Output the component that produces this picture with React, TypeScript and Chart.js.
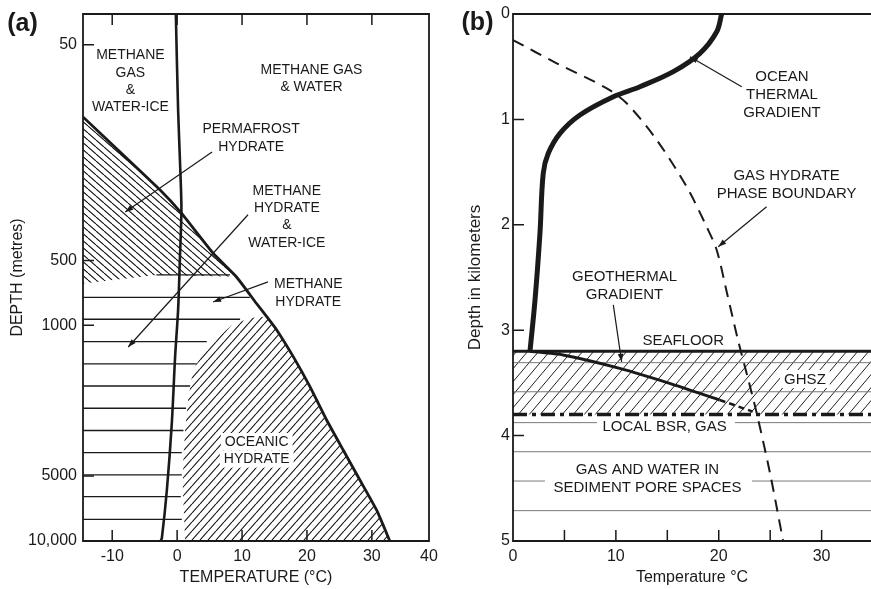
import React, { useEffect, useRef } from 'react';
import { Chart, registerables } from 'chart.js';

Chart.register(...registerables);

const FONT = '"Liberation Sans", Arial, Helvetica, sans-serif';
const INK = '#1a1a1a';

// ---------------- Panel (a): phase diagram ----------------
const aTempMin = -14.5;
const aTempMax = 38.8;
const aDepthMin = 36;
const aDepthMax = 10000;
const aTempTicks = [-10, 0, 10, 20, 30, 38.8];
const aTempTickLabels = ['-10', '0', '10', '20', '30', '40'];
const aDepthTicks = [50, 500, 1000, 5000, 10000];
const aDepthTickLabels = ['50', '500', '1000', '5000', '10,000'];

// temperature profile (nearly vertical thick line)
const aProfileTemp = [-0.2, 0.15, 0.5, 0.66, 0.42, 0.15, -0.31, -0.82, -1.58, -2.35, -2.54];
const aProfileDepth = [36, 100, 194, 291, 497, 848, 1397, 2846, 5801, 9684, 10000];

// methane hydrate phase boundary
const aBoundaryTemp = [-14.5, -2.66, 0.66, 5.54, 9.12, 12.2, 13.8, 15.34, 17.89, 20.46, 23.03, 25.58, 28.15, 30.72, 32.77];
const aBoundaryDepth = [108, 235, 302, 463, 595, 790, 911, 1050, 1397, 1925, 2747, 3784, 5213, 7180, 10000];

// permafrost hydrate region (hatched \\\)
const aPermafrostTemp = [-14.5, -2.66, 0.66, 5.54, 9.12, -3.2, -14.5];
const aPermafrostDepth = [108, 235, 302, 463, 595, 584, 640];

// oceanic hydrate region (hatched ///)
const aOceanicTemp = [11.23, 13.8, 15.34, 17.89, 20.46, 23.03, 25.58, 28.15, 30.72, 32.77, 1.23, 0.88, 0.97, 1.23, 1.69, 2.46, 4.57, 8.46];
const aOceanicDepth = [924, 911, 1050, 1397, 1925, 2747, 3784, 5213, 7180, 10000, 10000, 5801, 4077, 3056, 2218, 1610, 1260, 996];

// horizontal lines: methane hydrate & water-ice
const aIceLineDepth = [584, 742, 937, 1190, 1510, 1911, 2424, 3073, 3894, 4941, 6231, 7932];
const aIceLineStart = [-3.2, -14.5, -14.5, -14.5, -14.5, -14.5, -14.5, -14.5, -14.5, -14.5, -14.5, -14.5];
const aIceLineEnd = [8.15, 11.2, 9.7, 4.57, 3.03, 2.0, 1.38, 0.97, 0.72, 0.72, 0.57, 0.72];

const aNotes = [
  { lines: ['METHANE', 'GAS', '&', 'WATER-ICE'], t: -7.2, depth: 55.7 },
  { lines: ['METHANE GAS', '& WATER'], t: 20.7, depth: 64.9 },
  { lines: ['PERMAFROST', 'HYDRATE'], t: 11.4, depth: 123 },
  { lines: ['METHANE', 'HYDRATE', '&', 'WATER-ICE'], t: 16.9, depth: 237 },
  { lines: ['METHANE', 'HYDRATE'], t: 20.2, depth: 643 },
  { lines: ['OCEANIC', 'HYDRATE'], t: 12.26, depth: 3463, boxed: true },
];
const aArrows = [
  { from: [5.38, 157], to: [-8.0, 298] },
  { from: [10.92, 307], to: [-7.54, 1260] },
  { from: [14.0, 629], to: [5.54, 779] },
];

// ---------------- Panel (b): marine section ----------------
const bTempMin = 0;
const bTempMax = 34.8;
const bDepthMin = 0;
const bDepthMax = 5;
const bTempTicks = [0, 5, 10, 15, 20, 25, 30];
const bTempTickLabels = ['0', '', '10', '', '20', '', '30'];
const bDepthTicks = [0, 1, 2, 3, 4, 5];
const bDepthTickLabels = ['0', '1', '2', '3', '4', '5'];

const bOceanTemp = [20.28, 19.8, 18.17, 15.58, 12.34, 9.75, 6.51, 4.57, 3.43, 2.94, 2.62, 2.14, 1.65];
const bOceanDepth = [0, 0.168, 0.373, 0.547, 0.69, 0.785, 0.958, 1.132, 1.322, 1.511, 2.081, 2.713, 3.2];

const bPhaseTemp = [0, 4.25, 9.11, 11.05, 13.97, 16.88, 18.82, 19.8, 20.8, 21.87, 22.93, 23.71, 24.98, 26.24];
const bPhaseDepth = [0.247, 0.468, 0.705, 0.847, 1.195, 1.639, 2.018, 2.239, 2.647, 3.093, 3.491, 3.795, 4.355, 4.99];

const bGeoTemp = [1.65, 4.86, 10.37, 15.23, 20.09];
const bGeoDepth = [3.2, 3.235, 3.362, 3.504, 3.662];
const bGeoExtTemp = [20.09, 23.3];
const bGeoExtDepth = [3.662, 3.772];

const bSeafloorTemp = [0, 34.8];
const bSeafloorDepth = [3.2, 3.2];
const bBsrTemp = [0, 34.8];
const bBsrDepth = [3.8, 3.8];
const bGhszTemp = [0, 34.8, 34.8, 0];
const bGhszDepth = [3.2, 3.2, 3.8, 3.8];

const bLayerDepth = [3.308, 3.584, 3.877, 3.877, 4.153, 4.431, 4.431, 4.712];
const bLayerStart = [0, 0, 0, 21.57, 0, 0, 23.23, 0];
const bLayerEnd = [34.8, 34.8, 8.16, 34.8, 34.8, 3.11, 34.8, 34.8];

const bNotes = [
  { lines: ['OCEAN', 'THERMAL', 'GRADIENT'], t: 26.14, depth: 0.588 },
  { lines: ['GAS HYDRATE', 'PHASE BOUNDARY'], t: 26.6, depth: 1.528 },
  { lines: ['GEOTHERMAL', 'GRADIENT'], t: 10.84, depth: 2.492 },
  { lines: ['SEAFLOOR'], t: 16.55, depth: 3.1 },
  { lines: ['GHSZ'], t: 28.38, depth: 3.463, boxed: true },
  { lines: ['LOCAL BSR, GAS'], t: 14.74, depth: 3.915 },
  { lines: ['GAS AND WATER IN', 'SEDIMENT PORE SPACES'], t: 13.07, depth: 4.32 },
];
const bArrows = [
  { from: [22.23, 0.69], to: [17.2, 0.405] },
  { from: [24.65, 1.828], to: [19.95, 2.208] },
  { from: [9.75, 2.76], to: [10.56, 3.3] },
];

// ---------------- helpers ----------------
function pts(xs: number[], ys: number[]) {
  return xs.map((x, i) => ({ x, y: ys[i] }));
}
function segs(starts: number[], ends: number[], ys: number[]) {
  const out: any[] = [];
  for (let i = 0; i < ys.length; i++) {
    out.push({ x: starts[i], y: ys[i] }, { x: ends[i], y: ys[i] }, { x: null, y: null });
  }
  return out;
}
function hatch(w: number, h: number, dir: number, color: string, lw: number) {
  const c = document.createElement('canvas');
  c.width = w;
  c.height = h;
  const g = c.getContext('2d')!;
  g.strokeStyle = color;
  g.lineWidth = lw;
  g.beginPath();
  for (const k of [-1, 0, 1]) {
    if (dir > 0) {
      g.moveTo(k * w, h);
      g.lineTo(k * w + w, 0);
    } else {
      g.moveTo(k * w, 0);
      g.lineTo(k * w + w, h);
    }
  }
  g.stroke();
  return g.createPattern(c, 'repeat');
}

function drawArrow(ctx: CanvasRenderingContext2D, x1: number, y1: number, x2: number, y2: number) {
  ctx.beginPath();
  ctx.moveTo(x1, y1);
  ctx.lineTo(x2, y2);
  ctx.stroke();
  const ang = Math.atan2(y2 - y1, x2 - x1);
  const head = 8;
  const half = 2.8;
  const bx = x2 - head * Math.cos(ang);
  const by = y2 - head * Math.sin(ang);
  ctx.beginPath();
  ctx.moveTo(x2, y2);
  ctx.lineTo(bx + half * Math.sin(ang), by - half * Math.cos(ang));
  ctx.lineTo(bx - half * Math.sin(ang), by + half * Math.cos(ang));
  ctx.closePath();
  ctx.fill();
}

function drawDecor(chart: any, cfg: any) {
  const ctx: CanvasRenderingContext2D = chart.ctx;
  const { left, right, top, bottom } = chart.chartArea;
  const xs = chart.scales.x;
  const ys = chart.scales.y;
  ctx.save();
  ctx.strokeStyle = INK;
  ctx.fillStyle = INK;

  // annotations
  ctx.font = `${cfg.noteSize}px ${FONT}`;
  ctx.textAlign = 'center';
  ctx.textBaseline = 'middle';
  for (const n of cfg.notes) {
    const x = xs.getPixelForValue(n.t);
    const y0 = ys.getPixelForValue(n.depth);
    n.lines.forEach((line: string, i: number) => {
      const y = y0 + i * cfg.lineGap;
      if (n.boxed) {
        const w = ctx.measureText(line).width + 8;
        ctx.fillStyle = '#ffffff';
        ctx.fillRect(x - w / 2, y - cfg.lineGap / 2, w, cfg.lineGap);
        ctx.fillStyle = INK;
      }
      ctx.fillText(line, x, y + 0.5);
    });
  }

  // arrows
  ctx.lineWidth = 1.2;
  for (const a of cfg.arrows) {
    drawArrow(
      ctx,
      xs.getPixelForValue(a.from[0]),
      ys.getPixelForValue(a.from[1]),
      xs.getPixelForValue(a.to[0]),
      ys.getPixelForValue(a.to[1])
    );
  }

  // frame
  ctx.lineWidth = 1.8;
  ctx.lineCap = 'square';
  ctx.beginPath();
  if (cfg.sides.includes('top')) { ctx.moveTo(left, top); ctx.lineTo(right, top); }
  if (cfg.sides.includes('left')) { ctx.moveTo(left, top); ctx.lineTo(left, bottom); }
  if (cfg.sides.includes('bottom')) { ctx.moveTo(left, bottom); ctx.lineTo(right, bottom); }
  if (cfg.sides.includes('right')) { ctx.moveTo(right, top); ctx.lineTo(right, bottom); }
  ctx.stroke();

  // inward tick marks
  const L = 11;
  ctx.lineWidth = 1.5;
  ctx.lineCap = 'butt';
  ctx.beginPath();
  for (const v of cfg.leftTicks) {
    const y = ys.getPixelForValue(v);
    ctx.moveTo(left, y);
    ctx.lineTo(left + L, y);
  }
  for (const v of cfg.topTicks) {
    const x = xs.getPixelForValue(v);
    ctx.moveTo(x, top);
    ctx.lineTo(x, top + L);
  }
  for (const v of cfg.bottomTicks) {
    const x = xs.getPixelForValue(v);
    ctx.moveTo(x, bottom);
    ctx.lineTo(x, bottom - L);
  }
  ctx.stroke();

  // panel letter
  ctx.font = `bold 25px ${FONT}`;
  ctx.textAlign = 'center';
  ctx.textBaseline = 'middle';
  ctx.fillText(cfg.label, cfg.labelX, cfg.labelY);
  ctx.restore();
}

const tickFont = { family: FONT, size: 16 };
const titleFont = { family: FONT, size: 16 };

function fitX(s: any) {
  s.height = 48;
  s.paddingLeft = 0;
  s.paddingRight = 0;
}

function buildA(canvas: HTMLCanvasElement) {
  const permPat = hatch(8, 7, -1, '#111', 1.1);
  const oceanPat = hatch(8, 9, 1, '#111', 1.1);
  const decor = {
    id: 'decorA',
    afterDraw(chart: any) {
      drawDecor(chart, {
        sides: ['left', 'top', 'right', 'bottom'],
        leftTicks: aDepthTicks.slice(0, 4),
        topTicks: aTempTicks.slice(0, 5),
        bottomTicks: aTempTicks.slice(0, 5),
        notes: aNotes,
        arrows: aArrows,
        noteSize: 14,
        lineGap: 17.3,
        label: '(a)',
        labelX: 22.5,
        labelY: 24.5,
      });
    },
  };
  return new Chart(canvas, {
    type: 'line',
    data: {
      datasets: [
        { data: pts(aProfileTemp, aProfileDepth), borderColor: INK, borderWidth: 2.6, tension: 0.3, order: 0 },
        { data: pts(aBoundaryTemp, aBoundaryDepth), borderColor: INK, borderWidth: 2.8, tension: 0.15, order: 1 },
        { data: segs(aIceLineStart, aIceLineEnd, aIceLineDepth), borderColor: INK, borderWidth: 1.3, order: 2 },
        { data: pts(aPermafrostTemp, aPermafrostDepth), fill: 'shape', backgroundColor: permPat, borderWidth: 0, borderColor: 'rgba(0,0,0,0)', order: 5 },
        { data: pts(aOceanicTemp, aOceanicDepth), fill: 'shape', backgroundColor: oceanPat, borderWidth: 0, borderColor: 'rgba(0,0,0,0)', order: 5 },
      ] as any,
    },
    options: {
      animation: false,
      responsive: false,
      events: [],
      layout: { padding: { left: 0, right: 11, top: 14, bottom: 0 } },
      elements: { point: { radius: 0 } },
      plugins: { legend: { display: false }, tooltip: { enabled: false } },
      scales: {
        x: {
          type: 'linear',
          min: aTempMin,
          max: aTempMax,
          afterBuildTicks: (s: any) => { s.ticks = aTempTicks.map((value) => ({ value })); },
          afterFit: fitX,
          grid: { display: false, drawTicks: false },
          border: { display: false },
          ticks: {
            autoSkip: false, maxRotation: 0, padding: 6, color: INK, font: tickFont,
            callback: (v: any) => aTempTickLabels[aTempTicks.indexOf(Number(v))] ?? '',
          },
          title: { display: true, text: 'TEMPERATURE (°C)', color: INK, font: titleFont, padding: { top: 0, bottom: 1.5 } },
        },
        y: {
          type: 'logarithmic',
          min: aDepthMin,
          max: aDepthMax,
          reverse: true,
          afterBuildTicks: (s: any) => { s.ticks = aDepthTicks.map((value) => ({ value })); },
          afterFit: (s: any) => { s.width = 83; s.paddingTop = 0; s.paddingBottom = 0; },
          grid: { display: false, drawTicks: false },
          border: { display: false },
          ticks: {
            autoSkip: false, padding: 6, color: INK, font: tickFont,
            callback: (v: any) => aDepthTickLabels[aDepthTicks.indexOf(Number(v))] ?? '',
          },
          title: { display: true, text: 'DEPTH (metres)', color: INK, font: titleFont, padding: { top: 8, bottom: 0 } },
        },
      },
    } as any,
    plugins: [decor],
  });
}

function buildB(canvas: HTMLCanvasElement) {
  const ghszPat = hatch(11, 13, 1, '#222', 1.0);
  const decor = {
    id: 'decorB',
    afterDraw(chart: any) {
      drawDecor(chart, {
        sides: ['left', 'top', 'bottom'],
        leftTicks: bDepthTicks.slice(1, 5),
        topTicks: [],
        bottomTicks: bTempTicks.slice(1),
        notes: bNotes,
        arrows: bArrows,
        noteSize: 15,
        lineGap: 18,
        label: '(b)',
        labelX: 37.5,
        labelY: 23.3,
      });
    },
  };
  return new Chart(canvas, {
    type: 'line',
    data: {
      datasets: [
        { data: pts(bOceanTemp, bOceanDepth), borderColor: INK, borderWidth: 5, tension: 0.35, order: 0 },
        { data: pts(bGeoTemp, bGeoDepth), borderColor: INK, borderWidth: 3, tension: 0.2, order: 1 },
        { data: pts(bGeoExtTemp, bGeoExtDepth), borderColor: INK, borderWidth: 2.5, borderDash: [6, 4], order: 1 },
        { data: pts(bPhaseTemp, bPhaseDepth), borderColor: INK, borderWidth: 2, borderDash: [12, 8], tension: 0.3, order: 2 },
        { data: pts(bSeafloorTemp, bSeafloorDepth), borderColor: INK, borderWidth: 3, order: 3 },
        { data: pts(bBsrTemp, bBsrDepth), borderColor: INK, borderWidth: 3.5, borderDash: [14, 5, 4, 5], order: 3 },
        { data: segs(bLayerStart, bLayerEnd, bLayerDepth), borderColor: '#7a7a7a', borderWidth: 1, order: 4 },
        { data: pts(bGhszTemp, bGhszDepth), fill: 'shape', backgroundColor: ghszPat, borderWidth: 0, borderColor: 'rgba(0,0,0,0)', order: 6 },
      ] as any,
    },
    options: {
      animation: false,
      responsive: false,
      events: [],
      layout: { padding: { left: 0, right: 0, top: 14, bottom: 0 } },
      elements: { point: { radius: 0 } },
      plugins: { legend: { display: false }, tooltip: { enabled: false } },
      scales: {
        x: {
          type: 'linear',
          min: bTempMin,
          max: bTempMax,
          afterBuildTicks: (s: any) => { s.ticks = bTempTicks.map((value) => ({ value })); },
          afterFit: fitX,
          grid: { display: false, drawTicks: false },
          border: { display: false },
          ticks: {
            autoSkip: false, maxRotation: 0, padding: 6, color: INK, font: tickFont,
            callback: (v: any) => bTempTickLabels[bTempTicks.indexOf(Number(v))] ?? '',
          },
          title: { display: true, text: 'Temperature °C', color: INK, font: titleFont, padding: { top: 0, bottom: 1.5 } },
        },
        y: {
          type: 'linear',
          min: bDepthMin,
          max: bDepthMax,
          reverse: true,
          afterBuildTicks: (s: any) => { s.ticks = bDepthTicks.map((value) => ({ value })); },
          afterFit: (s: any) => { s.width = 73; s.paddingTop = 0; s.paddingBottom = 0; },
          grid: { display: false, drawTicks: false },
          border: { display: false },
          ticks: {
            autoSkip: false, padding: 3, color: INK, font: tickFont,
            callback: (v: any) => bDepthTickLabels[bDepthTicks.indexOf(Number(v))] ?? '',
          },
          title: { display: true, text: 'Depth in kilometers', color: INK, font: { family: FONT, size: 17 }, padding: { top: 25, bottom: 0 } },
        },
      },
    } as any,
    plugins: [decor],
  });
}

export default function App() {
  const aRef = useRef<HTMLCanvasElement>(null);
  const bRef = useRef<HTMLCanvasElement>(null);
  useEffect(() => {
    const ca = buildA(aRef.current!);
    const cb = buildB(bRef.current!);
    return () => {
      ca.destroy();
      cb.destroy();
    };
  }, []);
  return (
    <div style={{ position: 'absolute', left: 0, top: 0, width: 871, height: 589, background: '#ffffff', overflow: 'hidden' }}>
      <canvas ref={aRef} width={440} height={589} style={{ position: 'absolute', left: 0, top: 0, display: 'block' }} />
      <canvas ref={bRef} width={431} height={589} style={{ position: 'absolute', left: 440, top: 0, display: 'block' }} />
    </div>
  );
}
